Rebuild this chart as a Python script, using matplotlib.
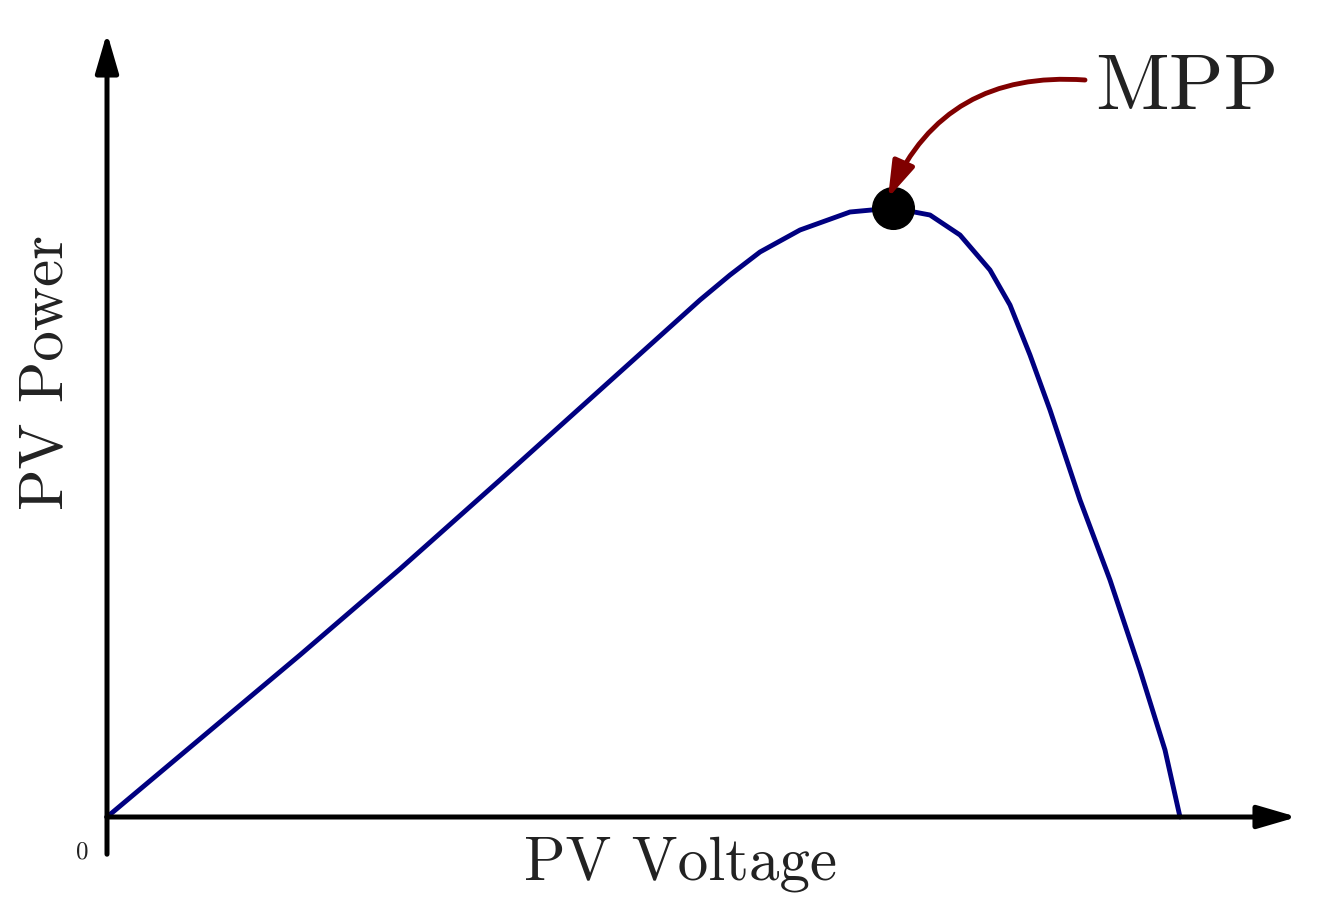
import matplotlib.pyplot as plt

# PV power curve (voltage, power in arbitrary units)
voltage = [0, 193, 293, 393, 493, 543, 593, 623, 653, 693, 743, 786, 823, 853, 883, 903, 923, 943, 973, 1003, 1033, 1058, 1073]
power = [0, 162, 248, 337, 427, 472, 517, 542, 565, 587, 605, 609, 602, 582, 547, 512, 462, 407, 317, 237, 147, 67, 0]
mpp_v, mpp_p = 786, 609

plt.rcParams['font.family'] = ['cmr10', 'DejaVu Serif']
plt.rcParams['axes.formatter.use_mathtext'] = True

fig = plt.figure(figsize=(13.2, 9.22), dpi=100)
ax = fig.add_axes([0, 0, 1, 1])
ax.set_xlim(-107, 1213)
ax.set_ylim(-105, 817)
ax.axis('off')

# axes arrows
ax.annotate('', xy=(1193, 0), xytext=(-3, 0),
            arrowprops=dict(arrowstyle='-|>,head_length=2.4,head_width=0.7', lw=3.6, color='black'))
ax.annotate('', xy=(0, 787), xytext=(0, -40),
            arrowprops=dict(arrowstyle='-|>,head_length=2.4,head_width=0.7', lw=3.6, color='black'))

ax.plot(voltage, power, color='#000080', lw=3.5, solid_capstyle='round', solid_joinstyle='round')
ax.plot(mpp_v, mpp_p, 'o', color='black', markersize=30)

ax.annotate('', xy=(mpp_v - 5, mpp_p + 10), xytext=(978, 737),
            arrowprops=dict(arrowstyle='-|>,head_length=2.2,head_width=0.7', lw=3.5,
                            color='#800000', connectionstyle='arc3,rad=0.35', shrinkA=0, shrinkB=0))
ax.text(1080, 727, 'MPP', fontsize=58, ha='center', va='center', color='#222222')

ax.text(573, -47, 'PV Voltage', fontsize=44, ha='center', va='center', color='#222222')
ax.text(-60, 445, 'PV Power', fontsize=44, ha='center', va='center', rotation=90, color='#222222')
ax.text(-25, -35, '0', fontsize=18, ha='center', va='center', color='#222222')

fig.savefig('out.png', dpi=100)
